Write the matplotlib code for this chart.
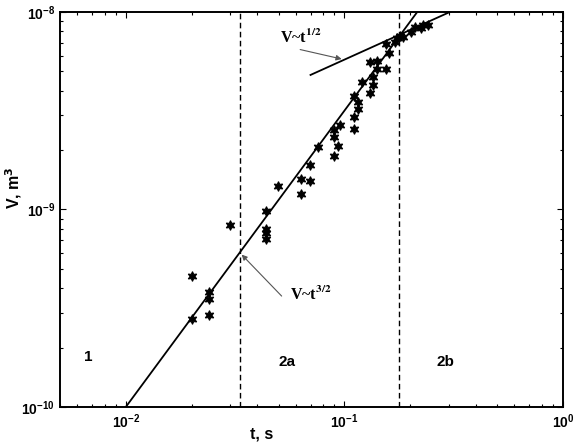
import numpy as np
import matplotlib
matplotlib.use("AGG")
import matplotlib.pyplot as plt

# measured points (t in s, V in m^3)
t_data = [0.0200, 0.0239, 0.0239, 0.0239, 0.0200, 0.0299,
          0.0440, 0.0440, 0.0440, 0.0440, 0.0497,
          0.0636, 0.0636, 0.0695, 0.0695, 0.0755,
          0.0894, 0.0894, 0.0894, 0.0936, 0.0959,
          0.1109, 0.1149, 0.1149, 0.1109, 0.1109, 0.1205,
          0.1312, 0.1354, 0.1354, 0.1312, 0.1415, 0.1415, 0.1556,
          0.160, 0.1556, 0.170, 0.1746, 0.180, 0.186,
          0.202, 0.2095, 0.225, 0.229, 0.241]
V_data = [2.78e-10, 2.92e-10, 3.52e-10, 3.81e-10, 4.62e-10, 8.32e-10,
          9.79e-10, 7.92e-10, 7.63e-10, 7.06e-10, 1.315e-9,
          1.42e-9, 1.195e-9, 1.67e-9, 1.40e-9, 2.07e-9,
          2.53e-9, 2.32e-9, 1.86e-9, 2.10e-9, 2.67e-9,
          3.76e-9, 3.49e-9, 3.22e-9, 2.95e-9, 2.56e-9, 4.42e-9,
          3.87e-9, 4.25e-9, 4.70e-9, 5.58e-9, 5.65e-9, 5.14e-9, 5.12e-9,
          6.17e-9, 6.85e-9, 7.07e-9, 7.39e-9, 7.56e-9, 7.47e-9,
          7.95e-9, 8.43e-9, 8.27e-9, 8.60e-9, 8.60e-9]

# regime boundaries
t_bounds = [0.0332, 0.177]

# fitted power laws
t_fit32 = np.array([0.01, 0.3])
V_fit32 = 1e-10 * (t_fit32 / 0.01) ** 1.5
t_fit12 = np.array([0.07, 0.4])
V_fit12 = 1.814e-8 * t_fit12 ** 0.5

plt.rcParams['font.family'] = ['Liberation Sans', 'DejaVu Sans']
plt.rcParams['font.weight'] = 'bold'

fig = plt.figure(figsize=(5.78, 4.42), dpi=100)
ax = fig.add_axes([0.1038, 0.0792, 0.8702, 0.8937])

ax.plot(t_fit32, V_fit32, color='k', lw=1.3)
ax.plot(t_fit12, V_fit12, color='k', lw=1.3)
for tb in t_bounds:
    ax.axvline(tb, color='k', lw=1.0, ls=(0, (4, 2.5)))
ax.plot(t_data, V_data, ls='none', marker=(6, 1, 0), ms=7, color='k',
        mec='k', mew=0.8)

ax.set_xscale('log')
ax.set_yscale('log')
ax.set_xlim(0.005, 1.0)
ax.set_ylim(1e-10, 1e-8)
ax.set_xticks([0.01, 0.1, 1.0])
ax.set_yticks([1e-10, 1e-9, 1e-8])

ax.tick_params(which='both', direction='in', top=True, right=True,
               labelsize=10, width=0.8)
ax.tick_params(which='major', length=4)
ax.tick_params(which='minor', length=2.5)
ax.tick_params(axis='x', pad=4)
for lab in ax.get_xticklabels() + ax.get_yticklabels():
    lab.set_fontweight('bold')
for sp in ax.spines.values():
    sp.set_linewidth(1.4)

ax.set_xlabel('t, s', fontsize=11.5, fontweight='bold')
ax.xaxis.set_label_coords(0.401, -0.05)
ax.set_ylabel('V, m$^3$', fontsize=11.5, fontweight='bold')
ax.yaxis.set_label_coords(-0.072, 0.555)

# arrows and law labels
ax.annotate('', xy=(0.1, 1.814e-8 * 0.1 ** 0.5), xytext=(0.061, 6.5e-9),
            arrowprops=dict(arrowstyle='-|>', color='#555555', lw=0.8,
                            mutation_scale=8))
ax.text(0.051, 6.97e-9, r'V~t$^{\mathbf{1/2}}$', fontsize=11.5,
        family='Liberation Serif', fontweight='bold',
        math_fontfamily='stix', ha='left', va='baseline')
ax.annotate('', xy=(0.0332, 1e-10 * 3.32 ** 1.5), xytext=(0.0527, 3.56e-10),
            arrowprops=dict(arrowstyle='-|>', color='#555555', lw=0.8,
                            mutation_scale=8))
ax.text(0.0561, 3.48e-10, r'V~t$^{\mathbf{3/2}}$', fontsize=11.5,
        family='Liberation Serif', fontweight='bold',
        math_fontfamily='stix', ha='left', va='baseline')

# regime labels
ax.text(0.00676, 1.79e-10, '1', fontsize=11, fontweight='bold',
        ha='center', va='center')
ax.text(0.0547, 1.69e-10, '2a', fontsize=11, fontweight='bold',
        ha='center', va='center')
ax.text(0.289, 1.69e-10, '2b', fontsize=11, fontweight='bold',
        ha='center', va='center')

fig.savefig('out.png', dpi=100)
